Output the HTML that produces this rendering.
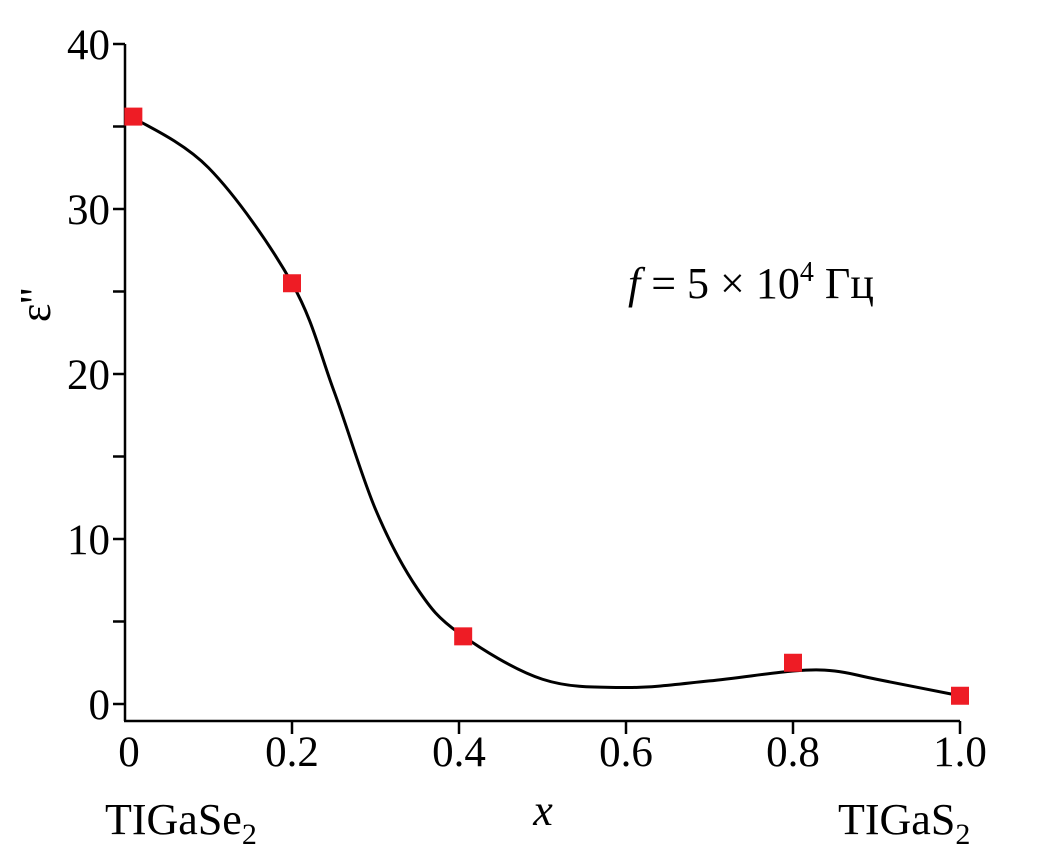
<!DOCTYPE html>
<html><head><meta charset="utf-8"><style>
body{margin:0;background:#fff}
svg{display:block;font-family:"Liberation Serif",serif}
</style></head><body>
<svg width="1043" height="858">
<g id="axes"></g>
<path id="curve" fill="none" stroke="#000" stroke-width="3"/>
<g id="pts"></g>
<text x="628" y="298" font-size="44"><tspan font-style="italic">f</tspan> = 5 × 10<tspan font-size="28" dy="-17">4</tspan><tspan dy="17"> Гц</tspan></text>
<text x="105" y="834" font-size="44">TIGaSe<tspan font-size="30" dy="10">2</tspan></text>
<text x="838" y="834" font-size="44">TIGaS<tspan font-size="30" dy="10">2</tspan></text>
<text x="543" y="825" font-size="44" font-style="italic" text-anchor="middle">x</text>
<text transform="translate(50,305) rotate(-90)" font-size="44" text-anchor="middle">ε''</text>
</svg>
<script>
const xs=[0.01,0.2,0.405,0.8,1.0];
const ys=[35.6,25.5,4.1,2.5,0.5];
const curveX=[0,0.1,0.2,0.25,0.3,0.35,0.4,0.5,0.6,0.7,0.8,0.85,0.9,1.0];
const curveY=[35.8,32.5,25.5,19.0,11.8,7.0,4.3,1.5,1.0,1.4,2.0,2.0,1.5,0.5];
const yTicks=[0,10,20,30,40];
const xTicks=[0,0.2,0.4,0.6,0.8,1.0];
const xTickLabels=["0","0.2","0.4","0.6","0.8","1.0"];
const X=v=>125+v*835, Y=v=>704-v*16.5;
const NS="http://www.w3.org/2000/svg";
function mk(t,a,p){const e=document.createElementNS(NS,t);for(const k in a)e.setAttribute(k,a[k]);p.appendChild(e);return e;}
const ax=document.getElementById('axes');
let l=mk('line',{x1:125,y1:Y(40),x2:125,y2:721,stroke:'#000','stroke-width':2.5},ax);


l=mk('line',{x1:124,y1:721,x2:X(1),y2:721,stroke:'#000','stroke-width':2.5},ax);


for(let v=0;v<=40;v+=5){const t=mk('line',{x1:113,y1:Y(v),x2:125,y2:Y(v),stroke:'#000','stroke-width':2.5},ax);

}
yTicks.forEach(v=>{const t=mk('text',{x:110,y:Y(v)+15,'font-size':43,'text-anchor':'end'},ax);t.textContent=v;

});
xTicks.forEach((v,i)=>{if(i>0){const k=mk('line',{x1:X(v),y1:721,x2:X(v),y2:734,stroke:'#000','stroke-width':2.5},ax);

}
const t=mk('text',{x:X(v)+(i==0?4:0),y:766,'font-size':43,'text-anchor':'middle'},ax);t.textContent=xTickLabels[i];

});
const P=curveX.map((x,i)=>[X(x),Y(curveY[i])]);
let d='M'+P[0][0]+','+P[0][1];
for(let i=0;i<P.length-1;i++){const p0=P[Math.max(0,i-1)],p1=P[i],p2=P[i+1],p3=P[Math.min(P.length-1,i+2)];
d+=` C${p1[0]+(p2[0]-p0[0])/6},${p1[1]+(p2[1]-p0[1])/6} ${p2[0]-(p3[0]-p1[0])/6},${p2[1]-(p3[1]-p1[1])/6} ${p2[0]},${p2[1]}`;}
document.getElementById('curve').setAttribute('d',d);
const g=document.getElementById('pts');
xs.forEach((x,i)=>{const r=mk('rect',{x:X(x)-9,y:Y(ys[i])-9,width:18,height:18,fill:'#ee1c25'},g);

});
</script>
</body></html>
